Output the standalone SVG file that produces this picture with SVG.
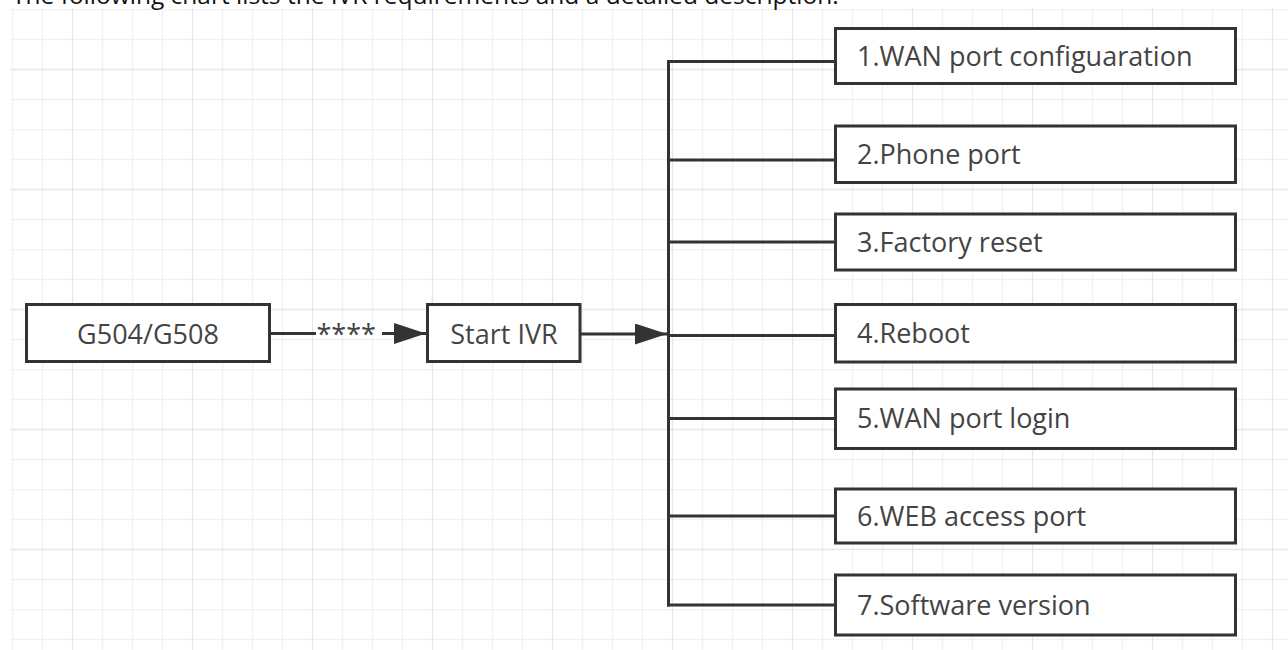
<svg xmlns="http://www.w3.org/2000/svg" width="1288" height="650" viewBox="0 0 1288 650">
  <style>
    .box { fill: #ffffff; stroke: #333333; stroke-width: 3; }
    .lbl { font-family: "Open Sans", "Noto Sans", "DejaVu Sans", sans-serif; font-size: 27px; fill: #444444; }
    .conn { fill: none; stroke: #333333; stroke-width: 3; }
    .minor { stroke: #f1f1f1; stroke-width: 1.3; }
    .major { stroke: #e6e6e6; stroke-width: 1.3; }
  </style>
  <defs>
    <pattern id="grid" patternUnits="userSpaceOnUse" x="12" y="9" width="120" height="120">
      <line class="minor" x1="0.5" y1="0" x2="0.5" y2="120"/>
      <line class="minor" x1="30.5" y1="0" x2="30.5" y2="120"/>
      <line class="minor" x1="90.5" y1="0" x2="90.5" y2="120"/>
      <line class="minor" x1="0" y1="0.5" x2="120" y2="0.5"/>
      <line class="minor" x1="0" y1="30.5" x2="120" y2="30.5"/>
      <line class="minor" x1="0" y1="90.5" x2="120" y2="90.5"/>
      <line class="major" x1="60.5" y1="0" x2="60.5" y2="120"/>
      <line class="major" x1="0" y1="60.5" x2="120" y2="60.5"/>
    </pattern>
    <marker id="arrow" viewBox="0 0 32 21" refX="32" refY="10.5" markerWidth="32" markerHeight="21" markerUnits="userSpaceOnUse" orient="auto">
      <path d="M0,0 L32,10.5 L0,21 Z" fill="#333333"/>
    </marker>
  </defs>

  <rect x="0" y="0" width="1288" height="650" fill="#ffffff"/>
  <rect x="10" y="8" width="1278" height="642" fill="url(#grid)"/>

  <text x="12" y="4" font-family="Open Sans, Noto Sans, sans-serif" font-size="24.5" fill="#111111">The following chart lists the IVR requirements and a detailed description.</text>

  <g id="connectors">
    <line class="conn" x1="269" y1="333.5" x2="316" y2="333.5"/>
    <text class="lbl" x="316.5" y="344" font-size="28.5">****</text>
    <line class="conn" x1="382" y1="333.5" x2="426" y2="333.5" marker-end="url(#arrow)"/>
    <line class="conn" x1="580" y1="334" x2="667" y2="334" marker-end="url(#arrow)"/>
    <line class="conn" x1="668.5" y1="60" x2="668.5" y2="606.5"/>
    <line class="conn" x1="667" y1="61.5" x2="835" y2="61.5"/>
    <line class="conn" x1="667" y1="160" x2="835" y2="160"/>
    <line class="conn" x1="667" y1="242" x2="835" y2="242"/>
    <line class="conn" x1="667" y1="335.5" x2="835" y2="335.5"/>
    <line class="conn" x1="667" y1="418.5" x2="835" y2="418.5"/>
    <line class="conn" x1="667" y1="516" x2="835" y2="516"/>
    <line class="conn" x1="667" y1="605" x2="835" y2="605"/>
  </g>

  <g id="node-g504">
    <rect class="box" x="26.5" y="304.5" width="243" height="57"/>
    <text class="lbl" x="148" y="343.5" text-anchor="middle">G504/G508</text>
  </g>
  <g id="node-start-ivr">
    <rect class="box" x="427.5" y="304.5" width="152.5" height="57"/>
    <text class="lbl" x="504" y="343.5" text-anchor="middle">Start IVR</text>
  </g>

  <g id="node-1">
    <rect class="box" x="835.5" y="28.5" width="400" height="55"/>
    <text class="lbl" x="857" y="65.5">1.WAN port configuaration</text>
  </g>
  <g id="node-2">
    <rect class="box" x="835.5" y="126" width="400" height="56.5"/>
    <text class="lbl" x="857" y="164">2.Phone port</text>
  </g>
  <g id="node-3">
    <rect class="box" x="835.5" y="214" width="400" height="56"/>
    <text class="lbl" x="857" y="251.5">3.Factory reset</text>
  </g>
  <g id="node-4">
    <rect class="box" x="835.5" y="304.5" width="400" height="57.5"/>
    <text class="lbl" x="857" y="342.5">4.Reboot</text>
  </g>
  <g id="node-5">
    <rect class="box" x="835.5" y="389" width="400" height="59.5"/>
    <text class="lbl" x="857" y="428">5.WAN port login</text>
  </g>
  <g id="node-6">
    <rect class="box" x="835.5" y="489" width="400" height="54"/>
    <text class="lbl" x="857" y="525.5">6.WEB access port</text>
  </g>
  <g id="node-7">
    <rect class="box" x="835.5" y="575" width="400" height="60"/>
    <text class="lbl" x="857" y="614.5">7.Software version</text>
  </g>
</svg>
